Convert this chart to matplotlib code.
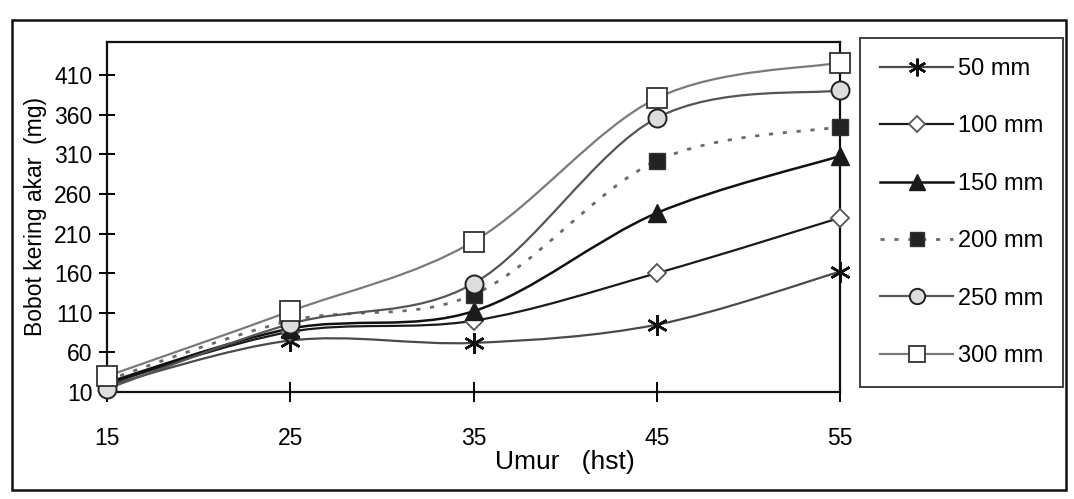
import numpy as np
import matplotlib
matplotlib.use('Agg')
import matplotlib.pyplot as plt
from matplotlib.path import Path
from matplotlib.patches import PathPatch, Rectangle
from matplotlib.lines import Line2D

plt.rcParams['font.family'] = ['Liberation Sans', 'DejaVu Sans']

# umur (hari setelah tanam)
umur = [15, 25, 35, 45, 55]
labels = ['50 mm', '100 mm', '150 mm', '200 mm', '250 mm', '300 mm']
# bobot kering akar (mg)
mm50 = [18, 75, 72, 95, 162]
mm100 = [20, 86, 100, 160, 230]
mm150 = [22, 90, 112, 236, 308]
mm200 = [25, 100, 133, 302, 345]
mm250 = [14, 96, 147, 356, 391]
mm300 = [30, 112, 200, 381, 426]
series = [mm50, mm100, mm150, mm200, mm250, mm300]

yticks = list(range(10, 411, 50))

# style per seri: warna garis, lebar, gaya garis, marker, ukuran, isi marker, tepi marker
styles = [
    dict(color='#4a4a4a', lw=1.6, ls='-', marker=(6, 2, 0), ms=15, mfc='k', mec='#111111', mew=1.8),
    dict(color='#1a1a1a', lw=1.6, ls='-', marker='D', ms=9, mfc='white', mec='#555555', mew=1.3),
    dict(color='#111111', lw=1.8, ls='-', marker='^', ms=13, mfc='#1a1a1a', mec='#1a1a1a', mew=1.0),
    dict(color='#6a6a6a', lw=2.0, ls=(0, (1.5, 3.5)), marker='s', ms=12, mfc='#222222', mec='#333333', mew=1.0),
    dict(color='#555555', lw=1.6, ls='-', marker='o', ms=13, mfc='#dddddd', mec='#222222', mew=1.4),
    dict(color='#7a7a7a', lw=1.6, ls='-', marker='s', ms=14, mfc='white', mec='#333333', mew=1.3),
]


def smooth_path(xs, ys):
    # kurva bezier halus antar titik (seperti "smoothed line")
    verts = [(xs[0], ys[0])]
    codes = [Path.MOVETO]
    n = len(xs)
    for i in range(n - 1):
        a = i - 1 if i > 0 else i
        b = i + 2 if i + 2 < n else i + 1
        c1 = (xs[i] + (xs[i + 1] - xs[a]) / 6.0, ys[i] + (ys[i + 1] - ys[a]) / 6.0)
        c2 = (xs[i + 1] - (xs[b] - xs[i]) / 6.0, ys[i + 1] - (ys[b] - ys[i]) / 6.0)
        verts += [c1, c2, (xs[i + 1], ys[i + 1])]
        codes += [Path.CURVE4] * 3
    return Path(verts, codes)


fig = plt.figure(figsize=(10.74, 4.99), dpi=100)
ax = fig.add_axes([107 / 1074, 1 - 392 / 499, (840 - 107) / 1074, (392 - 42) / 499])

handles = []
for vals, st, lab in zip(series, styles, labels):
    patch = PathPatch(smooth_path(umur, vals), fill=False, edgecolor=st['color'],
                      lw=st['lw'], linestyle=st['ls'], transform=ax.transData,
                      clip_on=False, zorder=2)
    ax.add_patch(patch)
    ax.plot(umur, vals, ls='none', marker=st['marker'], ms=st['ms'], mfc=st['mfc'],
            mec=st['mec'], mew=st['mew'], clip_on=False, zorder=3)
    handles.append(Line2D([], [], color=st['color'], lw=st['lw'], ls=st['ls'],
                          marker=st['marker'], ms=st['ms'] * 0.85, mfc=st['mfc'],
                          mec=st['mec'], mew=st['mew']))

ax.set_xlim(15, 55)
ax.set_ylim(10, 452)
ax.set_xticks(umur)
ax.set_yticks(yticks)
for sp in ax.spines.values():
    sp.set_linewidth(1.6)
    sp.set_color('#111111')
ax.tick_params(axis='x', direction='inout', length=14, width=1.4, pad=18, labelsize=16.5)
ax.tick_params(axis='y', direction='inout', length=11, width=1.4, pad=5, labelsize=16.5)

ax.set_ylabel('Bobot kering akar  (mg)', fontsize=16.5, labelpad=5)
ax.text(40, -0.165, 'Umur   (hst)', transform=ax.get_xaxis_transform(),
        ha='center', va='top', fontsize=19)

leg = fig.legend(handles, labels, loc='upper left',
                 bbox_to_anchor=(860 / 1074, 1 - 38 / 499), bbox_transform=fig.transFigure,
                 fontsize=17, frameon=True, fancybox=False, edgecolor='#111111',
                 borderpad=0.85, labelspacing=1.5, handlelength=3.1, handletextpad=0.2,
                 borderaxespad=0, numpoints=1)
leg.get_frame().set_linewidth(1.4)

# bingkai luar
fig.patches.append(Rectangle((12 / 1074, 1 - 490 / 499), (1066 - 12) / 1074, (490 - 20) / 499,
                             transform=fig.transFigure, fill=False, lw=1.8,
                             edgecolor='#111111'))

fig.savefig('out.png', dpi=100)
